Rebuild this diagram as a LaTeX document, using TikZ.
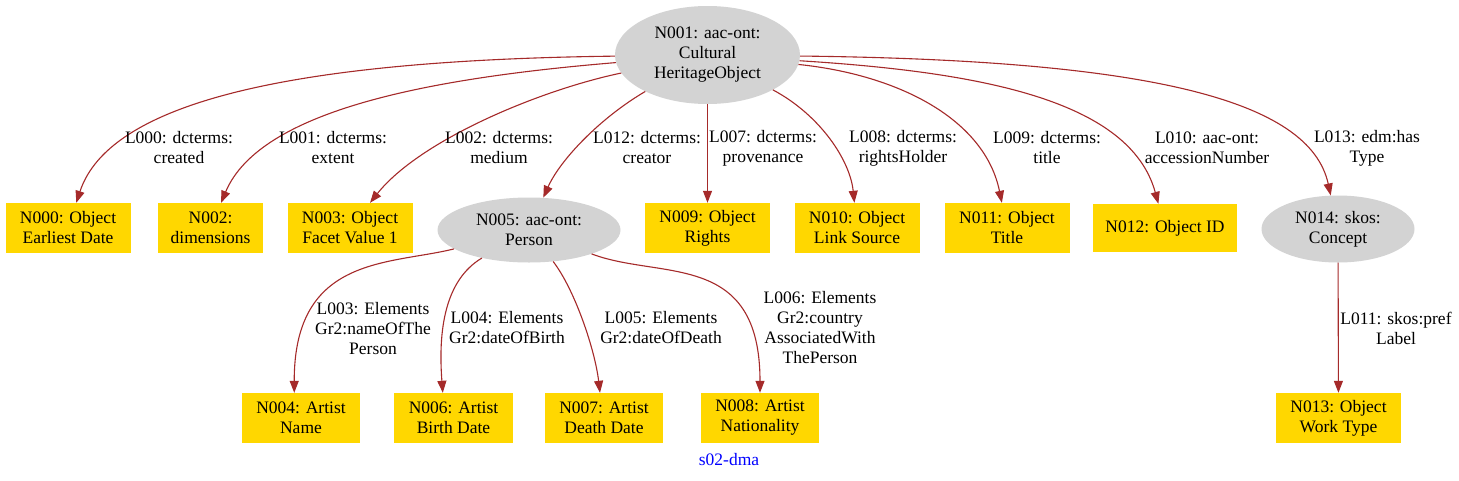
\documentclass[tikz,border=0pt]{standalone}
\usepackage{fontspec}
\setmainfont{Liberation Serif}
\usetikzlibrary{arrows.meta,shapes.geometric}
\definecolor{gvgold}{HTML}{FFD700}
\definecolor{gvgray}{HTML}{D3D3D3}
\definecolor{gvbrown}{HTML}{A52A2A}
\newcommand{\gvf}{\fontsize{17.5}{20}\selectfont}
\begin{document}
\begin{tikzpicture}[x=1pt,y=-1pt,
  box/.style={rectangle, fill=gvgold, inner sep=0pt, minimum width=#1, minimum height=50, align=center, font=\gvf},
  ell/.style={ellipse, fill=gvgray, inner sep=0pt, align=center, font=\gvf},
  lbl/.style={align=center, inner sep=0pt, font=\gvf},
  link/.style={draw=gvbrown, line width=1.1pt, -{Triangle[length=12pt,width=9pt]}}]
\useasboundingbox (0,0) rectangle (1459,480);
\fill[white] (0,0) rectangle (1459,480);
% nodes
\node[ell, minimum width=185, minimum height=98] (n001) at (707.5,55) {N001: aac-ont:\\Cultural\\HeritageObject};
\node[box=125] (n000) at (68,228) {N000: Object\\Earliest Date};
\node[box=105] (n002) at (210.5,228) {N002:\\dimensions};
\node[box=125] (n003) at (350,228) {N003: Object\\Facet Value 1};
\node[ell, minimum width=183, minimum height=65] (n005) at (529,230) {N005: aac-ont:\\Person};
\node[box=125] (n009) at (707.5,228) {N009: Object\\Rights};
\node[box=125] (n010) at (857,228) {N010: Object\\Link Source};
\node[box=125] (n011) at (1007,228) {N011: Object\\Title};
\node[box=144, minimum height=48] (n012) at (1165,228) {N012: Object ID};
\node[ell, minimum width=153, minimum height=67] (n014) at (1338,229) {N014: skos:\\Concept};
\node[box=118] (n004) at (301,418) {N004: Artist\\Name};
\node[box=119] (n006) at (453.5,418) {N006: Artist\\Birth Date};
\node[box=118] (n007) at (604,418) {N007: Artist\\Death Date};
\node[box=118] (n008) at (760,418) {N008: Artist\\Nationality};
\node[box=125] (n013) at (1338.5,418) {N013: Object\\Work Type};
\node[lbl, text=blue] (title) at (729,460) {s02-dma};
% edges
\draw[link] (n001) .. controls (300,60) and (110,100) .. (n000);
\draw[link] (n001) .. controls (430,78) and (260,110) .. (n002);
\draw[link] (n001) .. controls (540,90) and (420,140) .. (n003);
\draw[link] (n001) .. controls (600,118) and (560,160) .. (n005);
\draw[link] (n001) -- (n009);
\draw[link] (n001) .. controls (820,115) and (850,160) .. (n010);
\draw[link] (n001) .. controls (900,75) and (985,120) .. (n011);
\draw[link] (n001) .. controls (980,72) and (1130,100) .. (n012);
\draw[link] (n001) .. controls (1150,60) and (1310,100) .. (n014);
\draw[link] (n005) .. controls (390,265) and (294,255) .. (n004.105);
\draw[link] (n005) .. controls (445,280) and (438,330) .. (n006.113);
\draw[link] (n005) .. controls (575,290) and (595,350) .. (n007.99);
\draw[link] (n005) .. controls (660,280) and (760,250) .. (n008.north);
\draw[link] (n014) -- (n013);
% labels
\node[lbl] (l000) at (179,148) {L000: dcterms:\\created};
\node[lbl] (l001) at (333,148) {L001: dcterms:\\extent};
\node[lbl] (l002) at (499,148) {L002: dcterms:\\medium};
\node[lbl] (l012) at (647,148) {L012: dcterms:\\creator};
\node[lbl] (l007) at (763,148) {L007: dcterms:\\provenance};
\node[lbl] (l008) at (903,148) {L008: dcterms:\\rightsHolder};
\node[lbl] (l009) at (1047,148) {L009: dcterms:\\title};
\node[lbl] (l010) at (1207,148) {L010: aac-ont:\\accessionNumber};
\node[lbl] (l013) at (1367,148) {L013: edm:has\\Type};
\node[lbl] (l003) at (373,329) {L003: Elements\\Gr2:nameOfThe\\Person};
\node[lbl] (l004) at (507,328) {L004: Elements\\Gr2:dateOfBirth};
\node[lbl] (l005) at (661,328) {L005: Elements\\Gr2:dateOfDeath};
\node[lbl] (l006) at (820,328) {L006: Elements\\Gr2:country\\AssociatedWith\\ThePerson};
\node[lbl] (l011) at (1396,328) {L011: skos:pref\\Label};
\end{tikzpicture}
\end{document}
